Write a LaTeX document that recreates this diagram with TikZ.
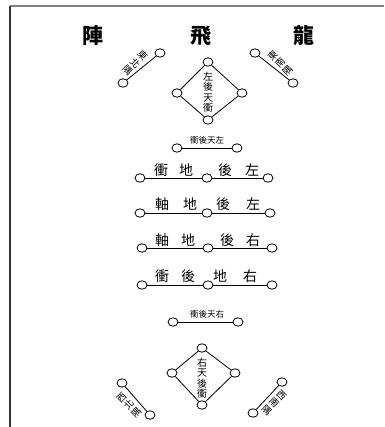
\documentclass[tikz,border=0pt]{standalone}
\usepackage{fontspec}
\newfontfamily\cjk{Noto Sans CJK TC}
\usetikzlibrary{shapes.geometric}
\tikzset{
  ring/.style={draw, ellipse, line width=0.8pt, minimum width=10pt, minimum height=8.5pt, inner sep=0pt},
  title/.style={font=\cjk\bfseries\fontsize{21}{21}\selectfont, inner sep=0pt},
  rowtxt/.style={font=\cjk\fontsize{14}{14}\selectfont, inner sep=0pt},
  smalltxt/.style={font=\cjk\fontsize{8.5}{8.5}\selectfont, inner sep=0pt},
  vtxt/.style={font=\cjk\fontsize{10}{10.5}\selectfont, align=center, inner sep=0pt},
  ctxt/.style={font=\cjk\fontsize{9.5}{10.5}\selectfont, align=center, inner sep=0pt},
  link/.style={line width=0.8pt},
  frame/.style={line width=1.2pt}
}
\begin{document}
\begin{tikzpicture}[x=1pt,y=-1pt]
\useasboundingbox (0,0) rectangle (384,427);
% frame
\coordinate (tl) at (10,6);
\coordinate (tr) at (384,6);
\coordinate (bl) at (10,427);
\draw[frame, gray] (tl) -- (tr);
\draw[frame, black!80] (tl) -- (bl);
% title
\node[title] (t1) at (93,36) {陣};
\node[title] (t2) at (201,36) {飛};
\node[title] (t3) at (304,36) {龍};
% upper-left bar
\node[ring] (ula) at (160,53) {};
\node[ring] (ulb) at (123,83) {};
\draw[link] (ula) -- (ulb);
\node[ctxt, rotate=-45] (ult) at (135,63) {東\\北\\隅};
% upper-right bar
\node[ring] (ura) at (255,53) {};
\node[ring] (urb) at (293,83) {};
\draw[link] (ura) -- (urb);
\node[ctxt, rotate=45] (urt) at (280,63) {東\\南\\隅};
% upper diamond
\node[ring] (d1t) at (208,62) {};
\node[ring] (d1l) at (177,93) {};
\node[ring] (d1r) at (242,93) {};
\node[ring] (d1b) at (208,120) {};
\draw[link] (d1t) -- (d1l) -- (d1b) -- (d1r) -- (d1t);
\node[vtxt] (d1x) at (208,92) {左\\後\\天\\衝};
% small row top
\node[ring] (s1a) at (177,148) {};
\node[ring] (s1b) at (237,148) {};
\draw[link] (s1a) -- (s1b);
\node[smalltxt] (s1x) at (207,140) {衝後天左};
% row 1
\node[ring] (r1a) at (140,178) {};
\node[ring] (r1b) at (207,178) {};
\node[ring] (r1c) at (268,178) {};
\draw[link] (r1a) -- (r1b) -- (r1c);
\node[rowtxt] (r1x1) at (161,170) {衝};
\node[rowtxt] (r1x2) at (186,170) {地};
\node[rowtxt] (r1x3) at (225,170) {後};
\node[rowtxt] (r1x4) at (252,170) {左};
% row 2
\node[ring] (r2a) at (140,213) {};
\node[ring] (r2b) at (207,213) {};
\node[ring] (r2c) at (270,213) {};
\draw[link] (r2a) -- (r2b) -- (r2c);
\node[rowtxt] (r2x1) at (162,204) {軸};
\node[rowtxt] (r2x2) at (190,204) {地};
\node[rowtxt] (r2x3) at (223,204) {後};
\node[rowtxt] (r2x4) at (253,204) {左};
% row 3
\node[ring] (r3a) at (142,248) {};
\node[ring] (r3b) at (208,248) {};
\node[ring] (r3c) at (272,248) {};
\draw[link] (r3a) -- (r3b) -- (r3c);
\node[rowtxt] (r3x1) at (162,240) {軸};
\node[rowtxt] (r3x2) at (188,240) {地};
\node[rowtxt] (r3x3) at (227,240) {後};
\node[rowtxt] (r3x4) at (253,240) {右};
% row 4
\node[ring] (r4a) at (142,285) {};
\node[ring] (r4b) at (208,285) {};
\node[ring] (r4c) at (272,285) {};
\draw[link] (r4a) -- (r4b) -- (r4c);
\node[rowtxt] (r4x1) at (162,276) {衝};
\node[rowtxt] (r4x2) at (188,276) {後};
\node[rowtxt] (r4x3) at (220,276) {地};
\node[rowtxt] (r4x4) at (250,276) {右};
% small row bottom
\node[ring] (s2a) at (173,322) {};
\node[ring] (s2b) at (238,322) {};
\draw[link] (s2a) -- (s2b);
\node[smalltxt] (s2x) at (207,314) {衝後天右};
% lower diamond
\node[ring] (d2t) at (202,348) {};
\node[ring] (d2l) at (172,373) {};
\node[ring] (d2r) at (235,373) {};
\node[ring] (d2b) at (202,405) {};
\draw[link] (d2t) -- (d2l) -- (d2b) -- (d2r) -- (d2t);
\node[vtxt] (d2x) at (202,378) {右\\天\\後\\衝};
% lower-left bar
\node[ring] (lla) at (122,383) {};
\node[ring] (llb) at (150,415) {};
\draw[link] (lla) -- (llb);
\node[ctxt, rotate=45] (llt) at (129,405) {西\\北\\隅};
% lower-right bar
\node[ring] (lra) at (282,382) {};
\node[ring] (lrb) at (253,413) {};
\draw[link] (lra) -- (lrb);
\node[ctxt, rotate=-45] (lrt) at (274,403) {西\\南\\隅};
\end{tikzpicture}
\end{document}
